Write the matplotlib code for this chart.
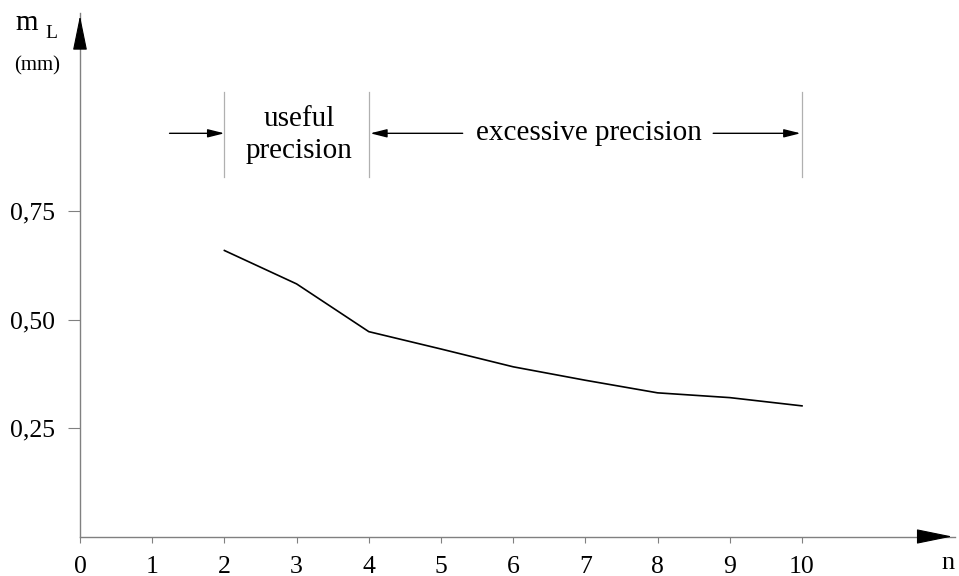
import numpy as np
import matplotlib
matplotlib.use("Agg")
import matplotlib.pyplot as plt

plt.rcParams['font.family'] = ['Liberation Serif', 'DejaVu Serif']

# data
n = [2, 3, 4, 5, 6, 7, 8, 9, 10]
m_L = [0.659, 0.582, 0.472, 0.432, 0.391, 0.360, 0.331, 0.320, 0.301]

x_ticks = list(range(0, 11))
x_labels = [str(v) for v in x_ticks]
y_ticks = [0.25, 0.50, 0.75]
y_labels = ["0,25", "0,50", "0,75"]

zone_edges = [2, 4, 10]

W, H = 959, 576
fig = plt.figure(figsize=(W / 100, H / 100), dpi=100)
ax = fig.add_axes([80 / W, (H - 536.5) / H, (955 - 80) / W, (536.5 - 13) / H])
ax.set_xlim(0, 875 / 72.2)
ax.set_ylim(0, 523.5 / 434)

axcol = '#808080'
for s in ['top', 'right']:
    ax.spines[s].set_visible(False)
for s in ['left', 'bottom']:
    ax.spines[s].set_color(axcol)
    ax.spines[s].set_linewidth(1.0)

ax.set_xticks(x_ticks)
ax.set_xticklabels(x_labels)
ax.set_yticks(y_ticks)
ax.set_yticklabels(y_labels)
ax.tick_params(axis='x', length=4, width=0.8, color=axcol, pad=10, labelsize=18.5)
ax.tick_params(axis='y', length=9, width=0.8, color=axcol, pad=9, labelsize=18.5)

# the curve
ax.plot(n, m_L, color='black', lw=1.2)

# axis arrowheads
ax.annotate('', xy=(1, 0), xycoords='axes fraction', xytext=(0.97, 0),
            arrowprops=dict(arrowstyle='-|>,head_length=23,head_width=4.7',
                            mutation_scale=1, color='black', lw=0.8))
ax.annotate('', xy=(0, 1), xycoords='axes fraction', xytext=(0, 0.96),
            arrowprops=dict(arrowstyle='-|>,head_length=22,head_width=4.5',
                            mutation_scale=1, color='black', lw=0.8))

# zone separators
y_lo, y_hi = 0.828, 1.024
for xe in zone_edges:
    ax.plot([xe, xe], [y_lo, y_hi], color='#b0b0b0', lw=0.9)

y_arr = 0.929
arr = dict(arrowstyle='-|>,head_length=10,head_width=2.5', mutation_scale=1,
           color='black', lw=1.0, shrinkA=0, shrinkB=0)
ax.annotate('', xy=(2, y_arr), xytext=(1.24, y_arr), arrowprops=arr)
ax.annotate('', xy=(4.02, y_arr), xytext=(5.3, y_arr), arrowprops=arr)
ax.annotate('', xy=(9.98, y_arr), xytext=(8.77, y_arr), arrowprops=arr)

ax.text(3.03, 0.925, "useful\nprecision", ha='center', va='center', fontsize=21,
        linespacing=1.3)
ax.text(7.05, y_arr, "excessive precision", ha='center', va='center', fontsize=21)

# axis labels
fig.text(948 / W, 1 - 563 / H, "n", ha='center', va='center', fontsize=19)
fig.text(27 / W, 1 - 30 / H, "m", ha='center', va='baseline', fontsize=21)
fig.text(51 / W, 1 - 38 / H, "L", ha='center', va='baseline', fontsize=14)
fig.text(37 / W, 1 - 70 / H, "(mm)", ha='center', va='baseline', fontsize=15)

fig.savefig("out.png", dpi=100)
